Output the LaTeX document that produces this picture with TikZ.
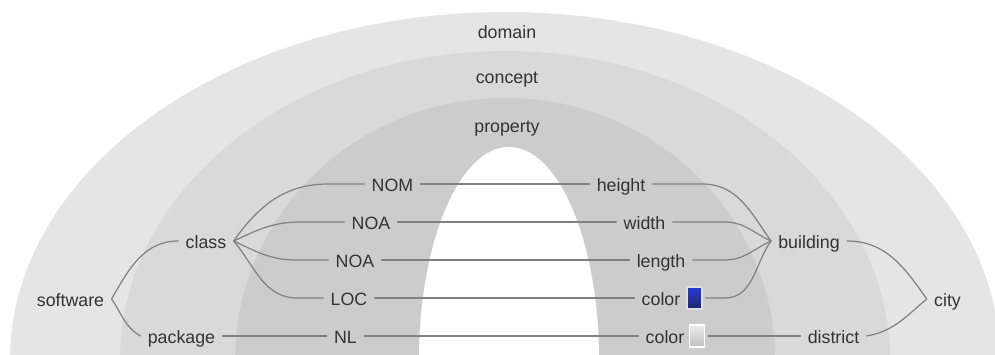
\documentclass[tikz,border=0pt]{standalone}
\usepackage{fontspec}
\setmainfont{Liberation Sans}
\usetikzlibrary{calc}
\definecolor{domaincol}{RGB}{229,229,229}
\definecolor{conceptcol}{RGB}{217,217,217}
\definecolor{propcol}{RGB}{204,204,204}
\definecolor{txtcol}{RGB}{51,51,51}
\definecolor{linkcol}{RGB}{128,128,128}
\definecolor{bluetop}{RGB}{36,58,214}
\definecolor{bluebot}{RGB}{30,40,110}
\tikzset{
	lbl/.style={text=txtcol, font=\fontsize{8.9}{10}\selectfont, inner sep=3.5pt, text height=7pt, text depth=0pt},
	link/.style={draw=linkcol, line width=0.6pt},
	swatch/.style={draw=#1, line width=0.6pt, minimum width=7.5pt, minimum height=11pt, inner sep=0pt}
}
\begin{document}
\begin{tikzpicture}[x=0.5pt, y=-0.5pt, line join=round, line cap=round]
	\useasboundingbox (0,0) rectangle (995,354);
	% arches
	\begin{scope}
		\clip (0,0) rectangle (995,354);
		\foreach \col/\cx/\rx/\ry in {domaincol/505/495/348, conceptcol/505/385/309, propcol/505/270/262, white/509/90/213}
			\fill[\col] (\cx,360) ellipse [x radius=\rx, y radius=\ry];
	\end{scope}
	
	\node[lbl] (domain) at (507,31) {domain};
	\node[lbl] (concept) at (507,76) {concept};
	\node[lbl] (property) at (507,125) {property};
	
	% left tree
	\node[lbl] (software) at (70.5,299) {software};
	\node[lbl] (class) at (206,241) {class};
	\node[lbl] (package) at (181.5,336) {package};
	\node[lbl] (NOM) at (392.5,184) {NOM};
	\node[lbl] (NOA1) at (371,222) {NOA};
	\node[lbl] (NOA2) at (355,260) {NOA};
	\node[lbl] (LOC) at (349,298) {LOC};
	\node[lbl] (NL) at (345.5,336) {NL};
	
	% right tree
	\node[lbl] (city) at (947.5,299) {city};
	\node[lbl] (building) at (809,241) {building};
	\node[lbl] (district) at (833.5,336) {district};
	\node[lbl] (height) at (621,184) {height};
	\node[lbl] (width) at (644.5,222) {width};
	\node[lbl] (length) at (661,260) {length};
	\node[lbl] (colb) at (661,298) {color};
	\node[lbl] (colg) at (665,336) {color};
	\node[swatch=black!12, top color=bluetop, bottom color=bluebot] (swb) at (694.5,298) {};
	\node[swatch=white, top color=black!8, bottom color=black!25] (swg) at (697,336) {};
	
	\draw[link] (software.east) to[out=60, in=180] (class.west);
	\draw[link] (software.east) to[out=-55, in=150] (package.west);
	\draw[link] (class.east) to[out=55, in=180] ([xshift=-18pt]NOM.west) -- (NOM.west);
	\draw[link] (class.east) to[out=25, in=180] ([xshift=-22pt]NOA1.west) -- (NOA1.west);
	\draw[link] (class.east) to[out=-25, in=180] ([xshift=-16pt]NOA2.west) -- (NOA2.west);
	\draw[link] (class.east) to[out=-50, in=180] ([xshift=-13pt]LOC.west) -- (LOC.west);
	
	\draw[link] (city.west) to[out=125, in=0] (building.east);
	\draw[link] (city.west) to[out=220, in=10] (district.east);
	\draw[link] (building.west) to[out=125, in=0] ([xshift=25pt]height.east) -- (height.east);
	\draw[link] (building.west) to[out=155, in=0] ([xshift=26pt]width.east) -- (width.east);
	\draw[link] (building.west) to[out=205, in=0] ([xshift=16pt]length.east) -- (length.east);
	\draw[link] (building.west) to[out=235, in=0] ([xshift=11pt]swb.east) -- ([xshift=1.5pt]swb.east);
	
	\foreach \a/\b in {package/NL, NOM/height, NOA1/width, NOA2/length, LOC/colb, NL/colg}
		\draw[link] (\a) -- (\b);
	\draw[link] ([xshift=1.5pt]swg.east) -- (district.west);
\end{tikzpicture}
\end{document}
